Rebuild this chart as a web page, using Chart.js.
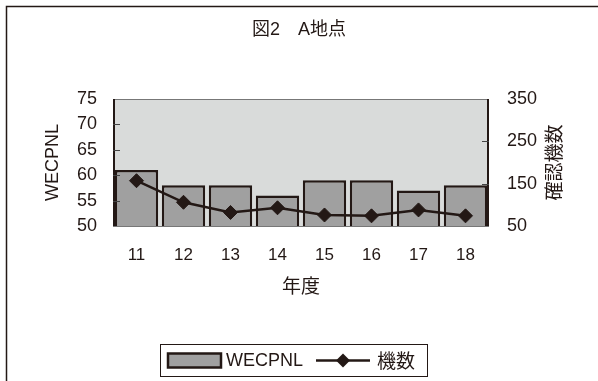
<!DOCTYPE html>
<html>
<head>
<meta charset="utf-8">
<script src="https://cdn.jsdelivr.net/npm/chart.js@4/dist/chart.umd.min.js"></script>
<style>
  html, body { margin: 0; padding: 0; background: #ffffff; }
  canvas { display: block; }
</style>
</head>
<body>
<canvas id="c" width="598" height="381"></canvas>
<script>
// 年度ごとの WECPNL と確認機数
const years = ['11', '12', '13', '14', '15', '16', '17', '18'];
const wecpnl = [61, 58, 58, 56, 59, 59, 57, 58];
const aircraftCount = [157, 106, 82, 93, 76, 74, 88, 74];
const leftTicks = [50, 55, 60, 65, 70, 75];
const rightTicks = [50, 150, 250, 350];

const INK = '#231815';
const BAR_FILL = '#a0a0a0';
const PLOT_BG = '#d9dbda';
const LATIN = '"Liberation Sans", Arial, sans-serif';
const CJK = '"Noto Sans CJK JP", "Noto Sans", sans-serif';
const MIXED = '"Liberation Sans", "Noto Sans CJK JP", sans-serif';

// 外枠、プロット背景、内向き目盛り、右軸タイトル、凡例
const decorations = {
  id: 'decorations',
  beforeDraw(chart) {
    const { ctx, chartArea: a } = chart;
    ctx.save();
    ctx.strokeStyle = INK;
    ctx.lineWidth = 1.5;
    ctx.beginPath();
    ctx.moveTo(6.5, 381);
    ctx.lineTo(6.5, 6.5);
    ctx.lineTo(598, 6.5);
    ctx.stroke();
    ctx.fillStyle = PLOT_BG;
    ctx.fillRect(a.left, a.top, a.right - a.left, a.bottom - a.top);
    ctx.restore();
  },
  afterDatasetsDraw(chart) {
    const { ctx, chartArea: a, scales } = chart;
    ctx.save();
    // frame of the plot area
    ctx.lineWidth = 1;
    ctx.strokeStyle = '#777';
    ctx.beginPath();
    ctx.moveTo(a.left, a.top + 0.5);
    ctx.lineTo(a.right, a.top + 0.5);
    ctx.stroke();
    ctx.beginPath();
    ctx.moveTo(a.left, a.bottom + 0.5);
    ctx.lineTo(a.right, a.bottom + 0.5);
    ctx.stroke();
    ctx.strokeStyle = INK;
    ctx.lineWidth = 2;
    ctx.beginPath();
    ctx.moveTo(a.left + 1, a.top);
    ctx.lineTo(a.left + 1, a.bottom);
    ctx.moveTo(a.right - 1, a.top);
    ctx.lineTo(a.right - 1, a.bottom);
    ctx.stroke();
    // inward tick marks
    ctx.lineWidth = 1.2;
    ctx.strokeStyle = '#444';
    ctx.beginPath();
    leftTicks.slice(1, -1).forEach(v => {
      const y = Math.round(scales.y.getPixelForValue(v)) + 0.5;
      ctx.moveTo(a.left, y);
      ctx.lineTo(a.left + 7, y);
    });
    rightTicks.slice(1, -1).forEach(v => {
      const y = Math.round(scales.y1.getPixelForValue(v)) + 0.5;
      ctx.moveTo(a.right, y);
      ctx.lineTo(a.right - 7, y);
    });
    ctx.stroke();
    ctx.restore();
  },
  afterDraw(chart) {
    const { ctx, chartArea: a, data } = chart;
    const barSet = data.datasets.find(d => d.type === 'bar');
    const lineSet = data.datasets.find(d => d.type === 'line');
    ctx.save();
    // right axis title, reading upward
    ctx.fillStyle = INK;
    ctx.font = '19px ' + CJK;
    ctx.textAlign = 'center';
    ctx.textBaseline = 'middle';
    ctx.translate(554, (a.top + a.bottom) / 2);
    ctx.rotate(-Math.PI / 2);
    ctx.fillText('確認機数', 0, 0);
    ctx.restore();

    // legend
    ctx.save();
    const bx = 160.5, by = 344.5, bw = 267, bh = 32;
    ctx.fillStyle = '#fff';
    ctx.fillRect(bx, by, bw, bh);
    ctx.strokeStyle = INK;
    ctx.lineWidth = 1;
    ctx.strokeRect(bx, by, bw, bh);
    const cy = by + bh / 2;
    ctx.fillStyle = BAR_FILL;
    ctx.fillRect(168, cy - 7, 53, 14);
    ctx.lineWidth = 2.5;
    ctx.strokeRect(168, cy - 7, 53, 14);
    ctx.fillStyle = INK;
    ctx.textBaseline = 'middle';
    ctx.textAlign = 'left';
    ctx.font = '18px ' + LATIN;
    ctx.fillText(barSet.label, 226, cy + 1);
    ctx.lineWidth = 2.5;
    ctx.beginPath();
    ctx.moveTo(316, cy);
    ctx.lineTo(370, cy);
    ctx.stroke();
    ctx.beginPath();
    ctx.moveTo(343, cy - 7);
    ctx.lineTo(350, cy);
    ctx.lineTo(343, cy + 7);
    ctx.lineTo(336, cy);
    ctx.closePath();
    ctx.fill();
    ctx.font = '19px ' + CJK;
    ctx.fillText(lineSet.label, 377, cy);
    ctx.restore();
  }
};

new Chart(document.getElementById('c'), {
  data: {
    labels: years,
    datasets: [
      {
        type: 'line',
        label: '機数',
        data: aircraftCount,
        yAxisID: 'y1',
        borderColor: INK,
        borderWidth: 2.5,
        backgroundColor: INK,
        pointStyle: 'rectRot',
        pointRadius: 7,
        pointBackgroundColor: INK,
        pointBorderColor: INK,
        pointBorderWidth: 1,
        tension: 0,
        order: 1
      },
      {
        type: 'bar',
        label: 'WECPNL',
        data: wecpnl,
        yAxisID: 'y',
        backgroundColor: BAR_FILL,
        borderColor: INK,
        borderWidth: 2.5,
        borderSkipped: false,
        categoryPercentage: 0.96,
        barPercentage: 0.96,
        order: 2
      }
    ]
  },
  options: {
    responsive: false,
    animation: false,
    devicePixelRatio: 1,
    layout: { padding: { left: 0, right: 0, top: 0, bottom: 83 } },
    plugins: {
      legend: { display: false },
      tooltip: { enabled: false },
      title: {
        display: true,
        text: '図2\u3000A地点',
        color: INK,
        font: { family: MIXED, size: 18, weight: 'normal', lineHeight: 1.2 },
        padding: { top: 19, bottom: 58.4 }
      }
    },
    scales: {
      x: {
        grid: { display: false, drawTicks: false, tickLength: 0 },
        border: { display: false },
        ticks: { color: INK, font: { family: LATIN, size: 17 }, padding: 19 },
        title: {
          display: true,
          text: '年度',
          color: INK,
          font: { family: CJK, size: 19, lineHeight: 1.2 },
          padding: { top: 0, bottom: 1 }
        },
        afterFit(s) { s.height = 72; }
      },
      y: {
        position: 'left',
        min: 50,
        max: 75,
        afterBuildTicks(s) { s.ticks = leftTicks.map(v => ({ value: v })); },
        grid: { display: false, drawTicks: false, tickLength: 0 },
        border: { display: false },
        ticks: { color: INK, font: { family: LATIN, size: 18 }, padding: 16 },
        title: {
          display: true,
          text: 'WECPNL',
          color: INK,
          font: { family: LATIN, size: 18, lineHeight: 1.2 },
          padding: { top: 42, bottom: 0 }
        },
        afterFit(s) { s.width = 113; }
      },
      y1: {
        position: 'right',
        min: 50,
        max: 350,
        afterBuildTicks(s) { s.ticks = rightTicks.map(v => ({ value: v })); },
        grid: { display: false, drawTicks: false, tickLength: 0 },
        border: { display: false },
        ticks: { color: INK, font: { family: LATIN, size: 18 }, padding: 18 },
        afterFit(s) { s.width = 109; }
      }
    }
  },
  plugins: [decorations]
});
</script>
</body>
</html>
